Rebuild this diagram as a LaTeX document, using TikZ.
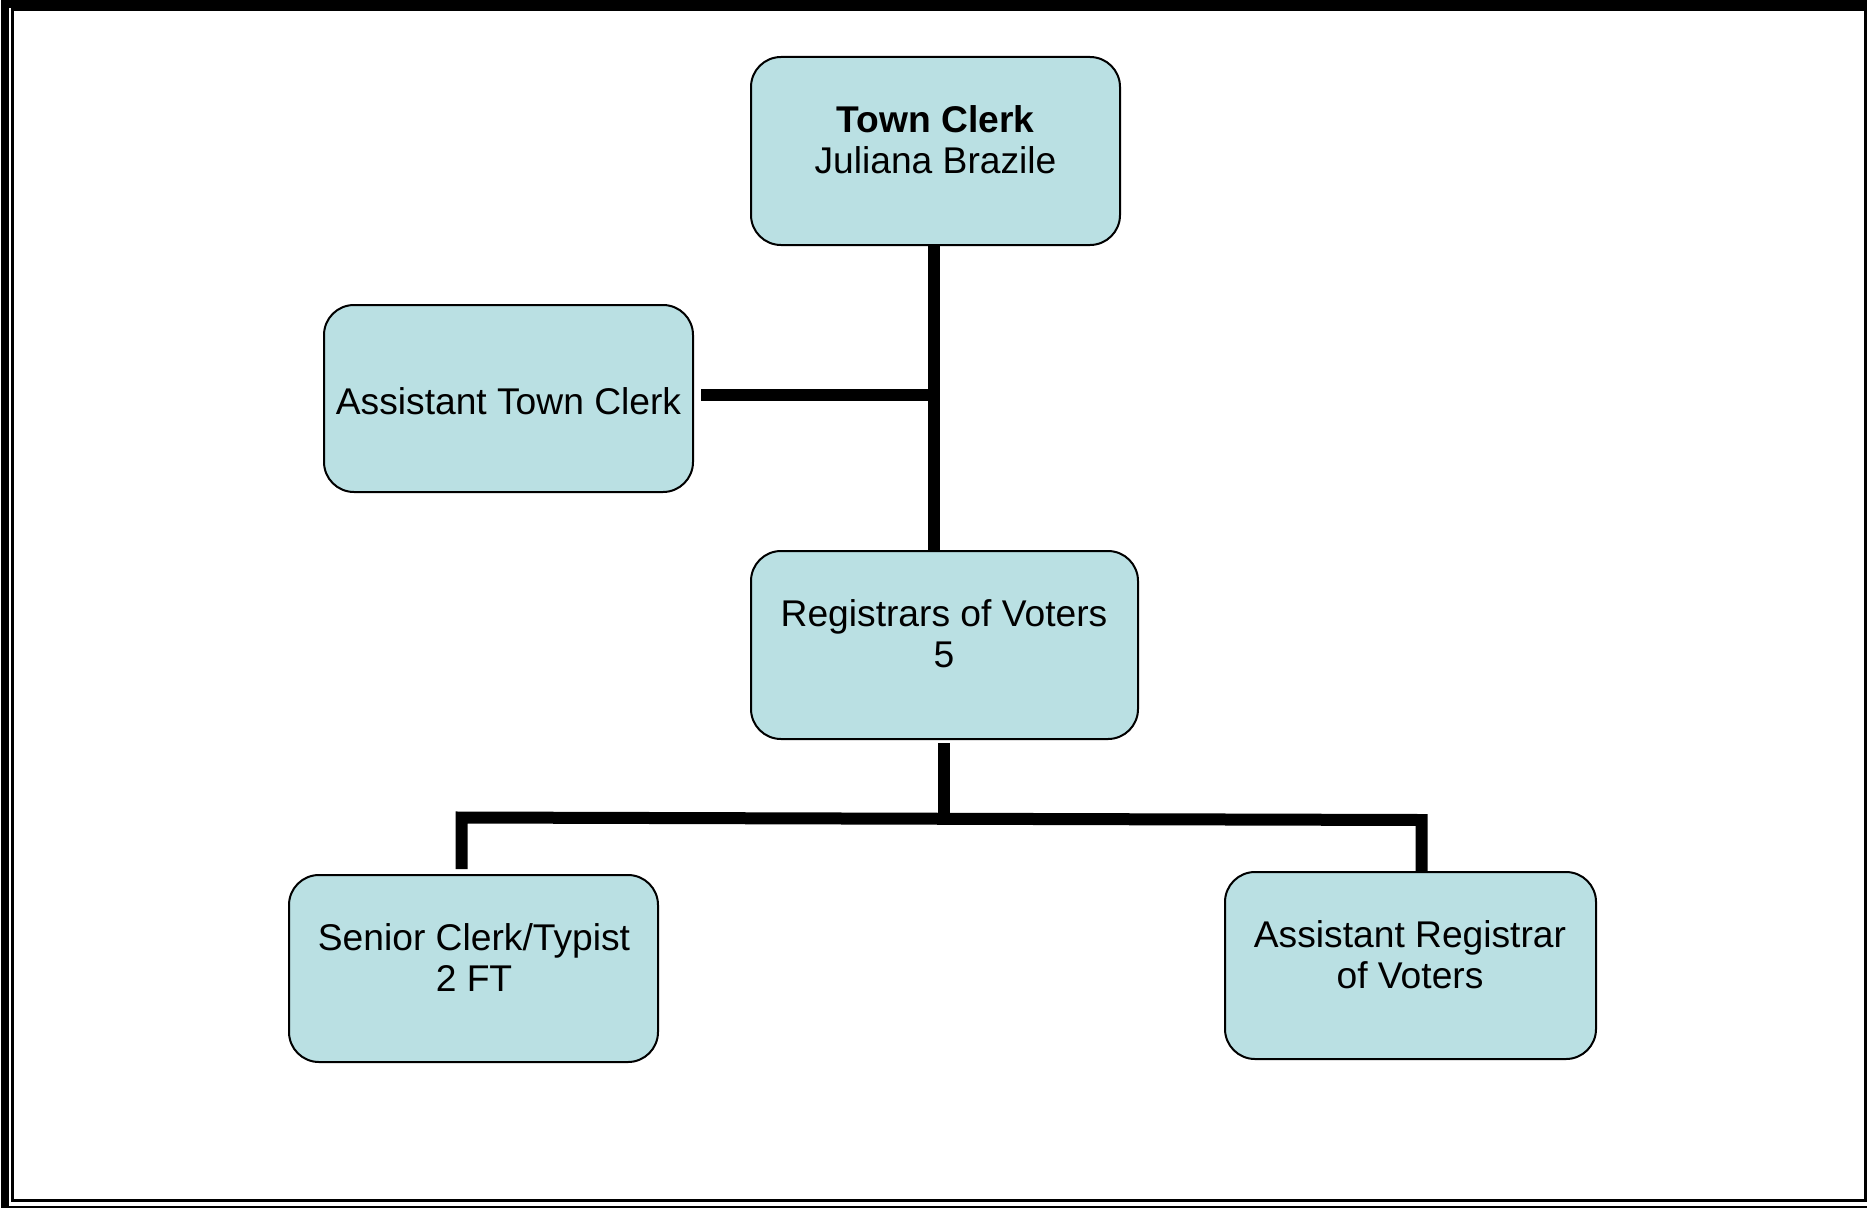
\documentclass[tikz,border=0pt]{standalone}
\usepackage{fontspec}
\setmainfont{Liberation Sans}
\definecolor{boxfill}{RGB}{186,224,227}
\begin{document}
\begin{tikzpicture}[x=1pt,y=-1pt,
  orgbox/.style={draw=black, line width=2pt, fill=boxfill, rounded corners=30pt, inner sep=0pt},
  lbl/.style={inner sep=0pt, align=center, font=\fontsize{37.2}{41}\selectfont},
  conn/.style={line width=12pt, draw=black}]
\useasboundingbox (0,0) rectangle (1867,1207);
\clip (0,0) rectangle (1867,1207);
\fill[white] (0,0) rectangle (1867,1207);
\draw[line width=8pt] (4.5,3.7) rectangle (1880,1210);
\draw[line width=3pt] (12.5,10) rectangle (1865.8,1200.8);

% boxes
\node[orgbox, minimum width=369pt, minimum height=188pt] (tc) at (935.5,151) {};
\node[orgbox, minimum width=369pt, minimum height=187pt] (atc) at (508.5,398.5) {};
\node[orgbox, minimum width=387pt, minimum height=188pt] (reg) at (944.5,645) {};
\node[orgbox, minimum width=369pt, minimum height=187pt] (sc) at (473.5,968.5) {};
\node[orgbox, minimum width=371pt, minimum height=187pt] (ar) at (1410.5,965.5) {};

% connectors
\coordinate (j1) at (934,395);
\coordinate (j2) at (944,818);
\coordinate (j3) at (461.7,817.5);
\coordinate (j4) at (1421.7,820);
\draw[conn] (tc.south -| j1) -- (reg.north -| j1);
\draw[conn] ([xshift=7pt]atc.east |- j1) -- (j1);
\draw[conn] ([yshift=-3pt]reg.south -| j2) -- (j2);
\draw[conn] ([yshift=5pt]sc.north -| j3) -- (j3) -- (j4) -- (ar.north -| j4);

% labels
\node[lbl] (tct) at (935.5,140) {\textbf{Town Clerk}\\Juliana Brazile};
\node[lbl, anchor=base] (atct) at (508.5,414) {Assistant Town Clerk};
\node[lbl] (regt) at (944,634) {Registrars of Voters\\5};
\node[lbl] (sct) at (474,958) {Senior Clerk/Typist\\2 FT};
\node[lbl] (art) at (1410,955) {Assistant Registrar\\of Voters};
\end{tikzpicture}
\end{document}
